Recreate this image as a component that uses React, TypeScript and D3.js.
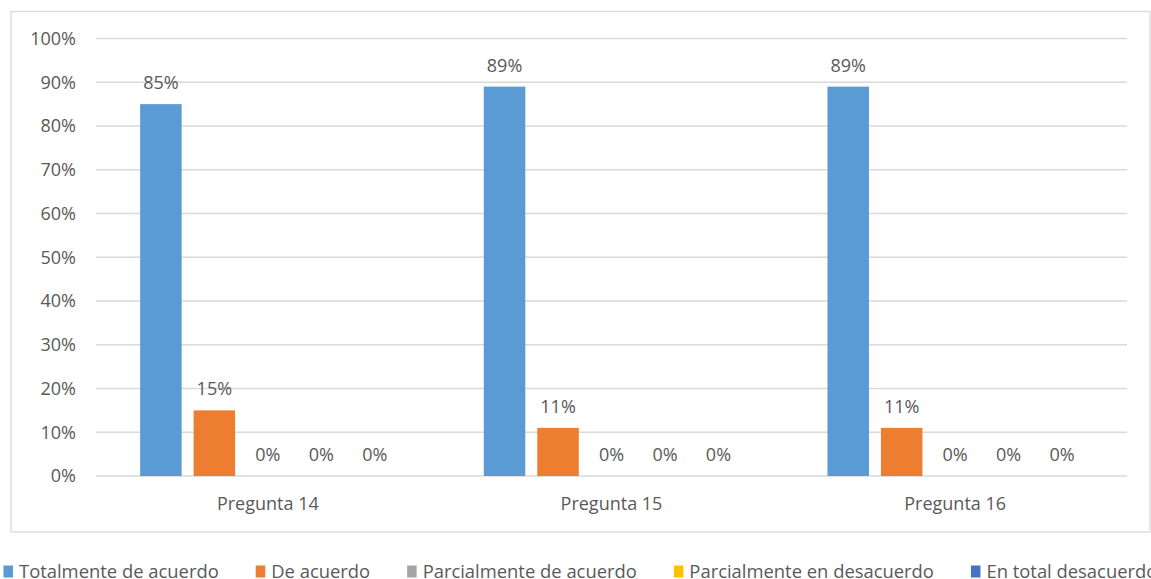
import React from "react";
import * as d3 from "d3";

const categories = ["Pregunta 14", "Pregunta 15", "Pregunta 16"];
const seriesNames = [
  "Totalmente de acuerdo",
  "De acuerdo",
  "Parcialmente de acuerdo",
  "Parcialmente en desacuerdo",
  "En total desacuerdo",
];
const seriesColors = ["#5B9BD5", "#ED7D31", "#A5A5A5", "#FFC000", "#4472C4"];
const totalmente = [85, 89, 89];
const deAcuerdo = [15, 11, 11];
const parcialAcuerdo = [0, 0, 0];
const parcialDesacuerdo = [0, 0, 0];
const totalDesacuerdo = [0, 0, 0];
const yTicks = [0, 10, 20, 30, 40, 50, 60, 70, 80, 90, 100];

const seriesValues = [totalmente, deAcuerdo, parcialAcuerdo, parcialDesacuerdo, totalDesacuerdo];

const W = 1151;
const H = 579;
const FONT = "'Open Sans', 'DejaVu Sans', sans-serif";
const TEXT = "#595959";
const LEGEND_FS = 18.4;

function measure(text: string, size: number) {
  const c = document.createElement("canvas").getContext("2d");
  if (!c) return text.length * size * 0.55;
  c.font = `${size}px 'Open Sans'`;
  return c.measureText(text).width;
}

export default function App() {
  const left = 96;
  const right = 1127;
  const top = 38.5;
  const bottom = 476;

  const y = d3.scaleLinear().domain([0, 100]).range([bottom, top]);
  const x0 = d3
    .scaleBand<string>()
    .domain(categories)
    .range([left, right])
    .paddingInner(0.222)
    .paddingOuter(0.111);
  const x1 = d3
    .scaleBand<string>()
    .domain(seriesNames)
    .range([0, x0.bandwidth()])
    .paddingInner(0.224)
    .paddingOuter(0.112);

  // legend layout
  const legendBase = 577.5;
  const sqW = 9.5;
  const sqH = 12;
  const gap = 6;
  let lx = 3.5;
  const legendItems = seriesNames.map((name, i) => {
    const item = { name, color: seriesColors[i], x: lx };
    lx += sqW + gap + measure(name, LEGEND_FS) + 37;
    return item;
  });

  return (
    <svg
      width={W}
      height={H}
      style={{ position: "fixed", left: 0, top: 0, background: "#fff" }}
      fontFamily={FONT}
    >
      <rect x={0} y={0} width={W} height={H} fill="#fff" />
      <rect x={11} y={11.5} width={1139} height={520.5} fill="#fff" stroke="#D9D9D9" strokeWidth={1.3} />
      {yTicks.map((t) => (
        <g key={t}>
          <line x1={left} x2={right} y1={y(t)} y2={y(t)} stroke="#D9D9D9" strokeWidth={1.3} />
          <text x={76} y={y(t)} dy="0.35em" textAnchor="end" fontSize={18} fill={TEXT}>
            {t}%
          </text>
        </g>
      ))}
      {categories.map((cat, ci) => (
        <g key={cat} transform={`translate(${x0(cat)},0)`}>
          {seriesNames.map((s, si) => {
            const v = seriesValues[si][ci];
            const bx = x1(s) as number;
            return (
              <g key={s}>
                {v > 0 && (
                  <rect
                    x={bx}
                    y={y(v)}
                    width={x1.bandwidth()}
                    height={y(0) - y(v)}
                    fill={seriesColors[si]}
                  />
                )}
                <text
                  x={bx + x1.bandwidth() / 2}
                  y={y(v) - 15}
                  textAnchor="middle"
                  fontSize={18}
                  fill={TEXT}
                >
                  {v}%
                </text>
              </g>
            );
          })}
          <text x={x0.bandwidth() / 2} y={510} textAnchor="middle" fontSize={18} fill={TEXT}>
            {cat}
          </text>
        </g>
      ))}
      {legendItems.map((it) => (
        <g key={it.name}>
          <rect x={it.x} y={legendBase - sqH} width={sqW} height={sqH} fill={it.color} />
          <text x={it.x + sqW + gap} y={legendBase} fontSize={LEGEND_FS} fill={TEXT}>
            {it.name}
          </text>
        </g>
      ))}
    </svg>
  );
}
